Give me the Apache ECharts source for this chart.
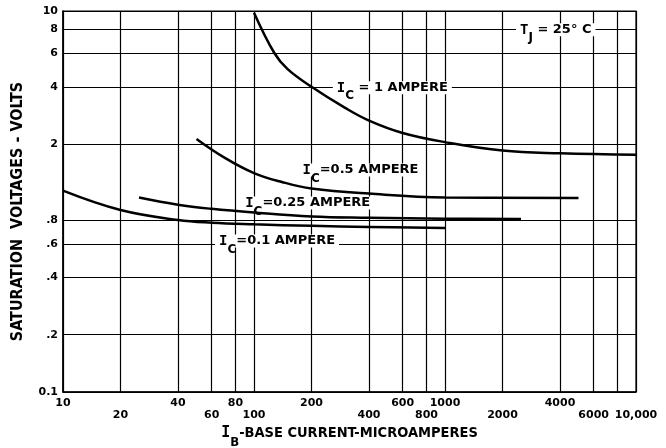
<!DOCTYPE html>
<html><head><meta charset="utf-8">
<script src="https://cdn.jsdelivr.net/npm/echarts@6/dist/echarts.min.js"></script>
<style>html,body{margin:0;padding:0;background:#fff}#c{width:666px;height:448px}</style>
</head><body><div id="c"></div>
<script>
// Tick values and labels
const xTickValues = [10,20,40,60,80,100,200,400,600,800,1000,2000,4000,6000,8000,10000];
const xTickLabels = ['10','20','40','60','80','100','200','400','600','800','1000','2000','4000','6000','8000','10,000'];
const yTickValues = [0.1,0.2,0.4,0.6,0.8,2,4,6,8,10];
const yTickLabels = ['0.1','.2','.4','.6','.8','2','4','6','8','10'];

// Curves (base current in microamperes, saturation voltage in volts)
const ic1X = [100,128,150,200,300,400,600,1000,2000,4000,10000];
const ic1Y = [9.8,6.0,4.95,4.0,3.10,2.66,2.29,2.05,1.85,1.79,1.76];
const ic05X = [50,70,100,140,200,400,1000,5000];
const ic05Y = [2.13,1.70,1.41,1.266,1.17,1.10,1.05,1.043];
const ic025X = [25,40,60,100,200,400,1000,2500];
const ic025Y = [1.05,0.962,0.915,0.875,0.835,0.822,0.812,0.81];
const ic01X = [10,20,40,60,100,200,400,1000];
const ic01Y = [1.14,0.902,0.80,0.774,0.759,0.745,0.735,0.726];

// Annotations: main letter, subscript, rest of text, anchor in data coords
const annLetter = ['T','I','I','I','I'];
const annSub = ['J','C','C','C','C'];
const annRest = [' = 25° C',' = 1 AMPERE','=0.5 AMPERE','=0.25 AMPERE','=0.1 AMPERE'];
const annX = [3800, 530, 361, 191, 132];
const annY = [7.97, 3.95, 1.464, 0.982, 0.620];

function nearestIndex(arr, v) {
  let best = 0, bd = Infinity;
  arr.forEach((a, i) => { const d = Math.abs(Math.log(a) - Math.log(v)); if (d < bd) { bd = d; best = i; } });
  return best;
}
const zip = (xs, ys) => xs.map((x, i) => [x, ys[i]]);

const FONT = 'DejaVu Sans';
const rich = {
  i: {fontFamily: 'DejaVu Sans Mono', fontWeight: 'bold', fontSize: 14, lineHeight: 13, verticalAlign: 'top', color: '#000'},
  s: {fontFamily: FONT, fontWeight: 'bold', fontSize: 12, lineHeight: 12, padding: [9, 0, 0, 0], verticalAlign: 'top', color: '#000'},
  m: {fontFamily: FONT, fontWeight: 'bold', fontSize: 13, lineHeight: 13, verticalAlign: 'top', color: '#000'}
};

const markData = annLetter.map((l, k) => ({
  coord: [annX[k], annY[k]],
  label: {
    show: true,
    formatter: '{i|' + l + '}{s|' + annSub[k] + '}{m|' + annRest[k] + '}',
    backgroundColor: '#fff',
    padding: [0, 4, 0, 4],
    rich: rich
  }
}));

const lineStyle = {color: '#000', width: 2.5};
const mk = (name, xs, ys, extra) => Object.assign({
  name, type: 'line', data: zip(xs, ys), smooth: 0.4, showSymbol: false, symbol: 'none',
  lineStyle: Object.assign({}, lineStyle), silent: true
}, extra || {});

const chart = echarts.init(document.getElementById('c'), null, {renderer: 'canvas'});
chart.setOption({
  animation: false,
  backgroundColor: '#fff',
  grid: {left: 63, right: 30, top: 11, bottom: 56, show: true, borderColor: '#000', borderWidth: 1.2, outerBoundsMode: 'none', containLabel: false},
  xAxis: {
    type: 'log', logBase: 10, min: 10, max: 10000,
    axisLine: {show: true, lineStyle: {color: '#000', width: 1.5}},
    axisTick: {show: false, customValues: xTickValues},
    splitLine: {show: true, lineStyle: {color: '#000', width: 1.2}},
    minorSplitLine: {show: false},
    axisLabel: {
      customValues: xTickValues, margin: 5, color: '#000', fontFamily: FONT, fontWeight: 'bold', fontSize: 11, lineHeight: 12,
      showMaxLabel: true, showMinLabel: true, hideOverlap: false,
      formatter: v => { const i = nearestIndex(xTickValues, v); return i % 2 === 0 ? xTickLabels[i] : '\n' + xTickLabels[i]; }
    },
    name: '{i|I}{s|B}{m|-BASE CURRENT-MICROAMPERES}',
    nameLocation: 'middle', nameGap: 33,
    nameTextStyle: {
      rich: {
        i: {fontFamily: 'DejaVu Sans Mono', fontWeight: 'bold', fontSize: 15, lineHeight: 14, verticalAlign: 'top', color: '#000'},
        s: {fontFamily: 'DejaVu Sans Condensed', fontWeight: 'bold', fontSize: 13, lineHeight: 13, padding: [10, 0, 0, 0], verticalAlign: 'top', color: '#000'},
        m: {fontFamily: 'DejaVu Sans Condensed', fontWeight: 'bold', fontSize: 14.5, lineHeight: 14, verticalAlign: 'top', color: '#000'}
      }
    }
  },
  yAxis: {
    type: 'log', logBase: 10, min: 0.1, max: 10,
    axisLine: {show: true, lineStyle: {color: '#000', width: 1.5}},
    axisTick: {show: false, customValues: yTickValues},
    splitLine: {show: true, lineStyle: {color: '#000', width: 1.2}},
    axisLabel: {
      customValues: yTickValues, margin: 5, color: '#000', fontFamily: FONT, fontWeight: 'bold', fontSize: 11,
      showMaxLabel: true, showMinLabel: true,
      formatter: v => yTickLabels[nearestIndex(yTickValues, v)]
    },
    name: 'SATURATION  VOLTAGES - VOLTS',
    nameLocation: 'middle', nameRotate: 90, nameGap: 37,
    nameTextStyle: {fontFamily: 'DejaVu Sans Condensed', fontWeight: 'bold', fontSize: 16, color: '#000', padding: [0, 20, 0, 0]}
  },
  series: [
    mk('IC=1', ic1X, ic1Y, {markPoint: {symbol: 'circle', symbolSize: 0, silent: true, data: markData}}),
    mk('IC=0.5', ic05X, ic05Y),
    mk('IC=0.25', ic025X, ic025Y),
    mk('IC=0.1', ic01X, ic01Y)
  ]
});
</script></body></html>
